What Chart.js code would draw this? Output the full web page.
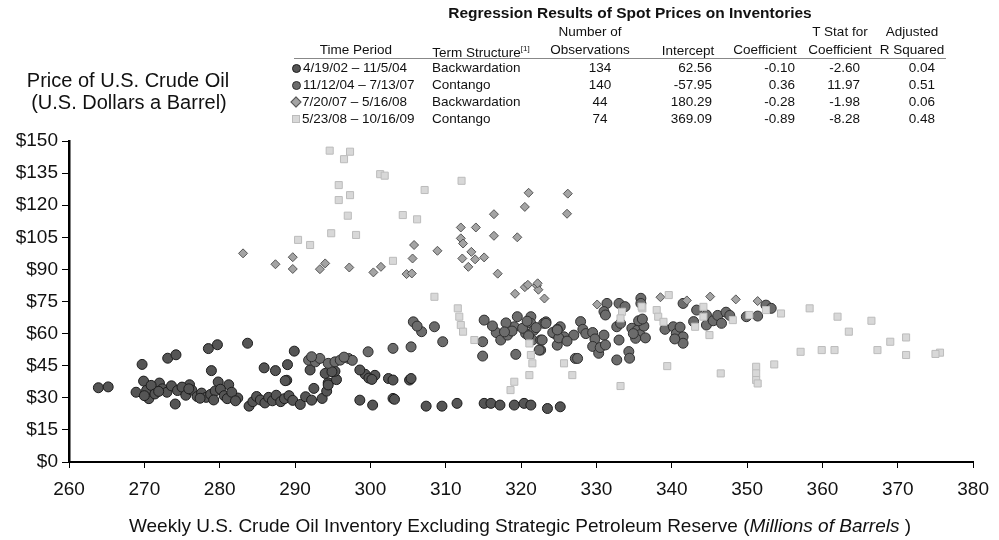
<!DOCTYPE html>
<html>
<head>
<meta charset="utf-8">
<script src="https://cdn.jsdelivr.net/npm/chart.js@4.4.0/dist/chart.umd.min.js"></script>
<style>
  body { margin: 0; background: #fff; font-family: "Liberation Sans", Arial, sans-serif; color: #111; }
  #wrap { position: relative; width: 999px; height: 540px; overflow: hidden; }
  #chart { position: absolute; left: 0; top: 0; }
  .t { position: absolute; white-space: nowrap; font-size: 13.5px; line-height: 16px; }
  .big { position: absolute; white-space: nowrap; font-size: 20px; line-height: 22px; }
  .mk { display: inline-block; vertical-align: middle; margin-right: 2px; }
</style>
</head>
<body>
<div id="wrap">
  <canvas id="chart" width="999" height="540"></canvas>
</div>
<script>
// regression table
const periods = ['4/19/02 \u2013 11/5/04', '11/12/04 \u2013 7/13/07', '7/20/07 \u2013 5/16/08', '5/23/08 \u2013 10/16/09']
const terms = ['Backwardation', 'Contango', 'Backwardation', 'Contango']
const observations = ['134', '140', '44', '74']
const intercepts = ['62.56', '-57.95', '180.29', '369.09']
const coefficients = ['-0.10', '0.36', '-0.28', '-0.89']
const tStats = ['-2.60', '11.97', '-1.98', '-8.28']
const rSquared = ['0.04', '0.51', '0.06', '0.48']

const priceTicks = [0, 15, 30, 45, 60, 75, 90, 105, 120, 135, 150]
const inventoryTicks = [260, 270, 280, 290, 300, 310, 320, 330, 340, 350, 360, 370, 380]

// [inventory (million bbl), price ($)]
const period1 = [
  [263.9, 34.7], [265.2, 35.1], [268.9, 32.6], [269.7, 45.6], [269.9, 37.8], [270.6, 29.6],
  [272.0, 36.9], [273.1, 48.5], [274.2, 50.1], [274.1, 27.1], [276.0, 36.1], [278.5, 53.0],
  [279.7, 54.8], [278.9, 42.7], [279.8, 37.4], [281.2, 36.1], [283.7, 55.5], [282.4, 29.9],
  [283.9, 26.1], [285.9, 44.0], [287.4, 42.7], [288.9, 38.2], [289.0, 45.5], [289.9, 51.8],
  [270.3, 33.5], [270.9, 35.8], [271.4, 31.8], [272.4, 34.2], [273.0, 32.6], [273.6, 35.6],
  [274.4, 33.4], [275.0, 35.0], [275.5, 31.2], [276.3, 33.6], [277.0, 30.6], [277.6, 32.2],
  [278.2, 30.2], [278.8, 31.6], [279.4, 33.2], [280.1, 34.0], [280.6, 31.0], [281.0, 29.6],
  [281.6, 32.6], [282.1, 28.6], [270.0, 31.0], [271.9, 33.0], [275.9, 34.2], [277.4, 29.8],
  [279.2, 29.0], [284.4, 28.2], [284.9, 30.6], [285.4, 29.0], [286.0, 27.6], [286.5, 30.2],
  [287.0, 28.6], [287.5, 31.2], [288.1, 28.2], [288.6, 29.6], [289.2, 31.0], [289.7, 28.8],
  [290.7, 26.9], [291.4, 30.5], [292.2, 28.9], [292.5, 34.4], [293.6, 29.7], [294.2, 33.1],
  [294.4, 37.0], [295.5, 38.5], [295.3, 42.4], [294.0, 41.4], [294.9, 42.2], [292.0, 43.0],
  [294.4, 36.0], [288.7, 38.0], [298.6, 28.9], [300.3, 26.6], [303.0, 29.7], [303.2, 29.3],
  [305.2, 38.3], [305.4, 39.0], [302.4, 39.0], [303.0, 38.3], [299.3, 41.0], [300.6, 40.5],
  [299.8, 39.2], [300.2, 38.6], [298.6, 43.0], [307.4, 26.1], [309.5, 26.1], [311.5, 27.4],
  [315.1, 27.4], [316.0, 27.4], [317.2, 26.6], [319.1, 26.6], [320.4, 27.4], [321.3, 26.6],
  [323.5, 25.0], [325.2, 25.8]
]

const period2 = [
  [291.8, 47.6], [292.7, 46.8], [293.3, 48.4], [294.4, 46.1], [295.3, 46.8], [296.0, 47.6],
  [297.1, 48.4], [297.6, 47.5], [296.5, 49.0], [292.2, 49.2], [299.7, 51.5], [303.0, 53.1],
  [305.4, 53.8], [305.7, 65.5], [306.8, 60.9], [308.5, 63.2], [309.6, 56.2], [306.2, 63.5],
  [315.1, 66.3], [316.7, 60.5], [314.9, 56.2], [314.9, 49.5], [317.3, 57.0], [318.2, 59.3],
  [319.1, 63.2], [319.5, 67.9], [320.6, 60.1], [321.3, 67.9], [321.3, 64.8], [321.7, 61.6],
  [321.5, 57.0], [322.6, 57.0], [322.6, 52.3], [323.0, 64.8], [324.4, 60.1], [325.2, 63.2],
  [325.7, 58.5], [324.8, 54.6], [327.0, 59.3], [319.3, 50.3], [323.3, 65.5], [327.2, 48.4],
  [320.2, 62.5], [321.0, 59.0], [320.8, 65.8], [322.0, 62.8], [318.8, 61.2], [324.2, 60.5],
  [325.0, 58.0], [326.1, 56.5], [324.8, 62.0], [327.5, 48.4], [327.9, 65.6], [328.2, 62.0],
  [328.6, 60.0], [329.5, 60.5], [329.8, 57.5], [329.5, 54.0], [330.3, 50.8], [330.5, 53.5],
  [331.4, 74.1], [331.0, 70.3], [331.2, 68.7], [333.0, 74.1], [333.8, 72.6], [332.7, 63.2],
  [333.2, 64.8], [333.0, 57.0], [331.0, 59.3], [331.2, 54.7], [332.7, 47.7], [334.3, 51.6],
  [334.4, 48.5], [334.7, 62.5], [335.4, 61.5], [335.8, 59.5], [336.3, 63.5], [336.5, 58.0],
  [335.2, 57.8], [334.9, 60.0], [335.6, 66.0], [336.1, 66.8], [335.9, 76.5], [335.9, 74.1],
  [339.1, 62.0], [340.2, 63.2], [340.6, 60.0], [341.1, 63.0], [341.5, 58.5], [341.5, 55.5],
  [340.4, 57.5], [341.5, 74.1], [342.9, 65.6], [343.3, 71.0], [344.6, 68.7], [344.6, 64.0],
  [345.5, 66.0], [346.1, 68.5], [346.6, 64.8], [347.2, 70.0], [347.7, 68.5], [349.9, 67.9],
  [351.4, 68.2], [352.5, 73.3], [353.2, 71.8], [323.3, 64.8], [322.8, 57.0], [322.4, 52.3],
  [324.8, 61.7], [318.0, 65.0], [316.2, 63.6], [317.8, 60.8]
]

const period3 = [
  [283.1, 97.5], [287.4, 92.4], [289.7, 95.7], [289.7, 90.2], [293.3, 90.1], [294.0, 92.8],
  [297.2, 90.9], [300.4, 88.6], [301.4, 91.2], [304.8, 87.8], [305.5, 88.1], [305.6, 95.1],
  [305.8, 101.4], [308.9, 98.7], [312.0, 109.6], [314.0, 109.6], [312.0, 104.5], [312.3, 102.1],
  [312.2, 95.1], [313.4, 98.2], [313.9, 94.7], [315.1, 95.6], [313.0, 91.2], [316.4, 115.8],
  [316.4, 105.7], [316.9, 88.0], [319.5, 105.0], [320.5, 119.2], [321.0, 125.8], [326.2, 125.4],
  [326.1, 116.0], [319.2, 78.6], [320.5, 81.7], [320.9, 82.8], [322.1, 82.4], [322.3, 80.5],
  [323.1, 76.4], [322.2, 83.5], [330.1, 73.6], [345.1, 77.3], [342.0, 75.5], [338.5, 77.0],
  [348.5, 76.0], [351.4, 75.2]
]

const period4 = [
  [294.6, 145.5], [297.3, 145.0], [296.5, 141.5], [301.3, 134.5], [301.9, 133.8], [312.1, 131.4],
  [307.2, 127.1], [295.8, 129.4], [297.3, 124.7], [295.8, 122.4], [297.0, 115.1], [304.3, 115.4],
  [306.2, 113.4], [294.8, 106.9], [298.1, 106.1], [290.4, 103.8], [292.0, 101.4], [303.0, 94.0],
  [308.5, 77.2], [311.6, 71.8], [311.8, 67.9], [312.0, 64.0], [312.3, 60.9], [313.8, 57.0],
  [321.1, 55.4], [321.3, 50.0], [321.5, 46.1], [321.1, 40.6], [319.1, 37.5], [318.6, 33.6],
  [325.7, 46.1], [326.8, 40.6], [333.2, 35.5], [339.4, 44.8], [346.5, 41.4], [351.2, 44.5],
  [351.2, 41.4], [351.2, 38.3], [351.4, 36.7], [353.6, 45.6], [339.6, 78.0], [338.0, 71.0],
  [338.2, 67.9], [338.9, 65.5], [336.1, 71.8], [336.0, 72.6], [333.4, 70.2], [333.2, 67.1],
  [344.2, 72.5], [344.2, 67.9], [343.1, 63.2], [345.0, 59.3], [348.1, 66.3], [350.3, 68.7],
  [352.5, 71.0], [354.5, 69.4], [358.3, 71.8], [362.0, 67.9], [366.5, 66.0], [363.5, 60.9],
  [369.0, 56.2], [371.1, 58.2], [371.1, 50.0], [367.3, 52.3], [375.6, 51.1], [375.0, 50.5],
  [361.6, 52.3], [359.9, 52.3], [357.1, 51.5]
]

const styles = [
  { pointStyle: 'circle', radius: 5, bg: '#555555', border: '#1c1c1c' },
  { pointStyle: 'circle', radius: 5, bg: '#6c6c6c', border: '#2e2e2e' },
  { pointStyle: 'rectRot', radius: 4.5, bg: '#a4a4a4', border: '#555555' },
  { pointStyle: 'rect', radius: 5, bg: '#d8d8d8', border: '#bcbcbc' }
]

const wrap = document.getElementById('wrap')
const addText = (cls, text, x, y, align, extra) => {
  const d = document.createElement('div')
  d.className = cls
  d.innerHTML = text
  d.style.top = y + 'px'
  if (align === 'center') { d.style.left = (x - 500) + 'px'; d.style.width = '1000px'; d.style.textAlign = 'center' }
  else if (align === 'right') { d.style.left = (x - 200) + 'px'; d.style.width = '200px'; d.style.textAlign = 'right' }
  else d.style.left = x + 'px'
  if (extra) Object.assign(d.style, extra)
  wrap.appendChild(d)
  return d
}

const marker = (i) => {
  const s = styles[i]
  if (s.pointStyle === 'circle')
    return `<span class="mk" style="width:7px;height:7px;border-radius:50%;background:${s.bg};border:1px solid ${s.border}"></span>`
  if (s.pointStyle === 'rectRot')
    return `<span class="mk" style="width:6px;height:6px;transform:rotate(45deg);background:${s.bg};border:1px solid ${s.border}"></span>`
  return `<span class="mk" style="width:6px;height:6px;background:${s.bg};border:1px solid ${s.border}"></span>`
}

// table header
addText('t', 'Regression Results of Spot Prices on Inventories', 630, 5, 'center', { fontWeight: 'bold', fontSize: '15.5px' })
addText('t', 'Number of', 590, 24, 'center')
addText('t', 'T Stat for', 840, 24, 'center')
addText('t', 'Adjusted', 912, 24, 'center')
addText('t', 'Time Period', 356, 42, 'center')
addText('t', 'Term Structure<sup style="font-size:8px">[1]</sup>', 481, 41, 'center')
addText('t', 'Observations', 590, 42, 'center')
addText('t', 'Intercept', 688, 43, 'center')
addText('t', 'Coefficient', 765, 42, 'center')
addText('t', 'Coefficient', 840, 42, 'center')
addText('t', 'R Squared', 912, 42, 'center')
const rule = document.createElement('div')
Object.assign(rule.style, { position: 'absolute', left: '294px', top: '58px', width: '652px', height: '1px', background: '#888' })
wrap.appendChild(rule)

periods.forEach((p, i) => {
  const y = 60 + i * 17
  addText('t', marker(i) + p, 292, y)
  addText('t', terms[i], 432, y)
  addText('t', observations[i], 600, y, 'center')
  addText('t', intercepts[i], 712, y, 'right')
  addText('t', coefficients[i], 795, y, 'right')
  addText('t', tStats[i], 860, y, 'right')
  addText('t', rSquared[i], 935, y, 'right')
})

addText('big', 'Price of U.S. Crude Oil', 128, 69, 'center')
addText('big', '(U.S. Dollars a Barrel)', 129, 91, 'center')
addText('big', 'Weekly U.S. Crude Oil Inventory Excluding Strategic Petroleum Reserve (<i>Millions of Barrels</i> )', 520, 515, 'center', { fontSize: '19px' })

const series = [period1, period2, period3, period4]
const datasets = series.map((pts, i) => ({
  data: pts.map(p => ({ x: p[0], y: p[1] })),
  pointStyle: styles[i].pointStyle,
  pointRadius: styles[i].radius,
  backgroundColor: styles[i].bg,
  borderColor: styles[i].border,
  borderWidth: 1,
  order: 4 - i
}))

const tickFont = { size: 19, family: '"Liberation Sans", Arial' }

new Chart(document.getElementById('chart'), {
  type: 'scatter',
  data: { datasets },
  options: {
    responsive: false,
    animation: false,
    layout: { padding: { top: 141, right: 21, left: 0, bottom: 0 } },
    plugins: { legend: { display: false }, tooltip: { enabled: false } },
    scales: {
      x: {
        type: 'linear', min: 260, max: 380,
        afterBuildTicks: s => { s.ticks = inventoryTicks.map(v => ({ value: v })) },
        ticks: { font: tickFont, color: '#111', padding: 10, maxRotation: 0 },
        grid: { drawOnChartArea: false, tickLength: 6, tickColor: '#000' },
        border: { color: '#000', width: 2 },
        afterFit: s => { s.height = 78 }
      },
      y: {
        min: 0, max: 150,
        afterBuildTicks: s => { s.ticks = priceTicks.map(v => ({ value: v })) },
        ticks: { font: tickFont, color: '#111', padding: 4, callback: v => '$' + v },
        grid: { drawOnChartArea: false, tickLength: 7, tickColor: '#000' },
        border: { color: '#000', width: 2.5 },
        afterFit: s => { s.width = 69 }
      }
    }
  }
})
</script>
</body>
</html>
